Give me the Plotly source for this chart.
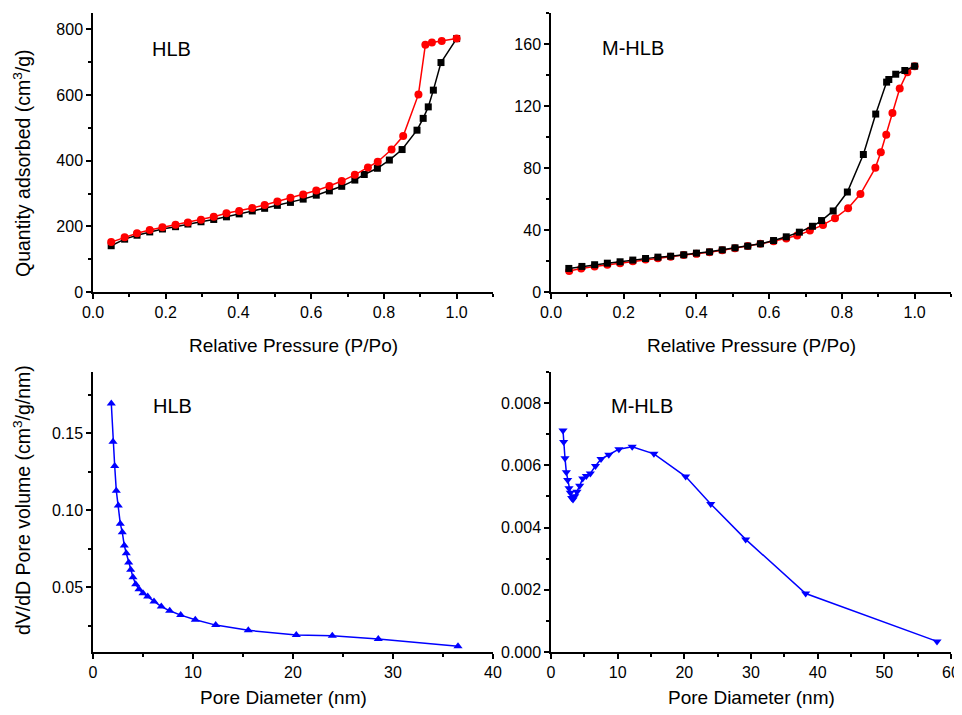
import plotly.graph_objects as go

# ---------------- data ----------------
# Top-left: HLB isotherm
hlb_ads_p = [0.05, 0.087, 0.121, 0.156, 0.191, 0.227, 0.261, 0.297, 0.332, 0.367, 0.402, 0.438,
             0.472, 0.507, 0.543, 0.578, 0.614, 0.650, 0.684, 0.720, 0.746, 0.782, 0.815, 0.850,
             0.891, 0.908, 0.922, 0.936, 0.957, 1.0]
hlb_ads_q = [141, 161, 173, 183, 192, 199, 207, 214, 221, 229, 238, 247,
             255, 264, 273, 283, 295, 308, 322, 341, 358, 377, 402, 434,
             493, 529, 564, 615, 699, 772]
hlb_des_p = [0.050, 0.087, 0.121, 0.156, 0.191, 0.227, 0.261, 0.297, 0.332, 0.367, 0.402, 0.438,
             0.472, 0.507, 0.543, 0.578, 0.614, 0.650, 0.684, 0.720, 0.756, 0.783, 0.821, 0.853,
             0.895, 0.914, 0.932, 0.959, 1.0]
hlb_des_q = [152, 167, 179, 189, 197, 205, 212, 220, 229, 240, 247, 256,
             265, 276, 287, 297, 309, 323, 338, 357, 379, 397, 434, 475,
             602, 753, 760, 765, 772]

# Top-right: M-HLB isotherm
mhlb_ads_p = [0.049, 0.085, 0.120, 0.155, 0.190, 0.225, 0.260, 0.294, 0.329, 0.365, 0.400, 0.436,
              0.471, 0.506, 0.541, 0.576, 0.612, 0.647, 0.683, 0.719, 0.744, 0.776, 0.815, 0.859,
              0.893, 0.923, 0.929, 0.948, 0.973, 1.0]
mhlb_ads_q = [15.2, 16.5, 17.6, 18.6, 19.5, 20.6, 21.6, 22.5, 23.1, 24.0, 25.1, 25.9,
              27.2, 28.5, 29.6, 31.1, 33.2, 35.6, 38.6, 42.4, 46.1, 52.3, 64.5, 88.7,
              114.8, 135.4, 137.1, 140.5, 142.9, 145.7]
mhlb_des_p = [0.050, 0.083, 0.120, 0.155, 0.190, 0.225, 0.260, 0.294, 0.329, 0.365, 0.400, 0.436,
              0.471, 0.506, 0.541, 0.576, 0.612, 0.647, 0.677, 0.712, 0.748, 0.781, 0.817, 0.851,
              0.892, 0.907, 0.922, 0.939, 0.959, 0.980, 1.0]
mhlb_des_q = [13.5, 15.2, 16.5, 17.6, 18.6, 19.9, 21.0, 21.8, 22.7, 23.8, 24.6, 25.7,
              27.0, 28.3, 29.6, 31.1, 32.8, 34.5, 36.4, 39.6, 43.3, 47.6, 54.0, 63.2,
              80.1, 90.2, 101.5, 115.5, 131.3, 141.8, 145.7]

# Bottom-left: HLB pore size distribution
hlb_d = [1.83, 2.0, 2.17, 2.33, 2.53, 2.73, 2.93, 3.13, 3.33, 3.57, 3.77, 4.0, 4.27, 4.6, 5.0,
         5.47, 6.1, 6.83, 7.67, 8.77, 10.23, 12.27, 15.53, 20.33, 23.93, 28.53, 36.5]
hlb_v = [0.1695, 0.1446, 0.1288, 0.1128, 0.1032, 0.0913, 0.0857, 0.0771, 0.0721, 0.0660, 0.0613,
         0.0565, 0.0519, 0.0487, 0.0461, 0.0439, 0.0407, 0.0374, 0.0346, 0.0318, 0.0288, 0.0253,
         0.0219, 0.0188, 0.0184, 0.0162, 0.0115]

# Bottom-right: M-HLB pore size distribution
mhlb_d = [1.80, 1.90, 2.1, 2.3, 2.5, 2.7, 2.9, 3.1, 3.3, 3.56, 3.9, 4.3, 4.76, 5.3, 5.9, 6.67,
          7.5, 8.67, 10.18, 12.18, 15.44, 20.2, 23.96, 29.2, 38.2, 57.9]
mhlb_v = [0.00712, 0.00675, 0.00623, 0.00578, 0.00553, 0.00526, 0.00512, 0.00495, 0.00490,
          0.00501, 0.00515, 0.00534, 0.00558, 0.00566, 0.00574, 0.00598, 0.00620, 0.00634,
          0.00652, 0.00660, 0.00637, 0.00564, 0.00476, 0.00362, 0.00188, 0.00034]

panel_labels = ["HLB", "M-HLB", "HLB", "M-HLB"]
x_titles = ["Relative Pressure (P/Po)", "Relative Pressure (P/Po)", "Pore Diameter (nm)", "Pore Diameter (nm)"]
y_titles = ["Quantity adsorbed (cm<sup>3</sup>/g)", "dV/dD Pore volume (cm<sup>3</sup>/g/nm)"]

# ---------------- layout helpers ----------------
OFF = 8                      # default page body margin
W, H = 962 - OFF, 715 - OFF
FONT = "Liberation Sans, Arial, sans-serif"
RED = "#ff0000"
BLACK = "#000000"
BLUE = "#0000ff"


def px(x):
    return (x - OFF) / W


def py(y):
    return 1 - (y - OFF) / H


fig = go.Figure()

# Top-left
fig.add_trace(go.Scatter(x=hlb_ads_p, y=hlb_ads_q, mode="lines+markers", xaxis="x", yaxis="y",
                         line=dict(color=BLACK, width=1.5),
                         marker=dict(symbol="square", size=7, color=BLACK)))
fig.add_trace(go.Scatter(x=hlb_des_p, y=hlb_des_q, mode="lines+markers", xaxis="x", yaxis="y",
                         line=dict(color=RED, width=1.5),
                         marker=dict(symbol="circle", size=8, color=RED)))
# Top-right
fig.add_trace(go.Scatter(x=mhlb_des_p, y=mhlb_des_q, mode="lines+markers", xaxis="x2", yaxis="y2",
                         line=dict(color=RED, width=1.5),
                         marker=dict(symbol="circle", size=8, color=RED)))
fig.add_trace(go.Scatter(x=mhlb_ads_p, y=mhlb_ads_q, mode="lines+markers", xaxis="x2", yaxis="y2",
                         line=dict(color=BLACK, width=1.5),
                         marker=dict(symbol="square", size=7, color=BLACK)))
# Bottom-left
fig.add_trace(go.Scatter(x=hlb_d, y=hlb_v, mode="lines+markers", xaxis="x3", yaxis="y3",
                         line=dict(color=BLUE, width=1.5),
                         marker=dict(symbol="triangle-up", size=8, color=BLUE)))
# Bottom-right
fig.add_trace(go.Scatter(x=mhlb_d, y=mhlb_v, mode="lines+markers", xaxis="x4", yaxis="y4",
                         line=dict(color=BLUE, width=1.5),
                         marker=dict(symbol="triangle-down", size=8, color=BLUE)))

xdom_l = [px(93), px(493)]
xdom_r = [px(551), px(951)]
ydom_t = [py(292), py(13)]
ydom_b = [py(652), py(372)]


def axis(domain, anchor, rng, dtick, minor_dtick, fmt=None, tick0=0):
    d = dict(domain=domain, anchor=anchor, range=rng, dtick=dtick, tick0=tick0,
             showline=True, linecolor="black", linewidth=1.5, mirror=False,
             ticks="outside", ticklen=5, tickwidth=1.5, tickcolor="black",
             showgrid=False, zeroline=False,
             tickfont=dict(family=FONT, size=16, color="black"),
             minor=dict(dtick=minor_dtick, tick0=tick0, ticks="outside", ticklen=3, tickwidth=1.5,
                        tickcolor="black", showgrid=False),
             automargin=False, fixedrange=True)
    if fmt:
        d["tickformat"] = fmt
    return d


fig.update_layout(
    width=W, height=H,
    margin=dict(l=0, r=0, t=0, b=0),
    paper_bgcolor="white", plot_bgcolor="white",
    showlegend=False,
    font=dict(family=FONT, color="black"),
    xaxis=axis(xdom_l, "y", [0, 1.1], 0.2, 0.1, ".1f"),
    yaxis=axis(ydom_t, "x", [0, 850], 200, 100),
    xaxis2=axis(xdom_r, "y2", [0, 1.1], 0.2, 0.1, ".1f"),
    yaxis2=axis(ydom_t, "x2", [0, 180], 40, 20),
    xaxis3=axis(xdom_l, "y3", [0, 40], 10, 5),
    yaxis3=axis(ydom_b, "x3", [0.0078, 0.19], 0.05, 0.025, ".2f"),
    xaxis4=axis(xdom_r, "y4", [0, 60], 10, 5),
    yaxis4=axis(ydom_b, "x4", [0, 0.009], 0.002, 0.001, ".3f"),
)

annots = []
label_pos = [(171, 49), (633, 48), (172, 406), (642, 406)]
for (x, y), t in zip(label_pos, panel_labels):
    annots.append(dict(x=px(x), y=py(y), xref="paper", yref="paper", text=t, showarrow=False,
                       xanchor="center", yanchor="middle", font=dict(family=FONT, size=20, color="black")))
xt_pos = [(293, 345), (751, 345), (283, 697), (751, 697)]
for (x, y), t in zip(xt_pos, x_titles):
    annots.append(dict(x=px(x), y=py(y), xref="paper", yref="paper", text=t, showarrow=False,
                       xanchor="center", yanchor="middle", font=dict(family=FONT, size=19, color="black")))
yt_pos = [(22, 163), (22, 500)]
for (x, y), t in zip(yt_pos, y_titles):
    annots.append(dict(x=px(x), y=py(y), xref="paper", yref="paper", text=t, showarrow=False,
                       textangle=-90, xanchor="center", yanchor="middle",
                       font=dict(family=FONT, size=19.5, color="black")))
fig.update_layout(annotations=annots)

fig.write_html("out.html")
